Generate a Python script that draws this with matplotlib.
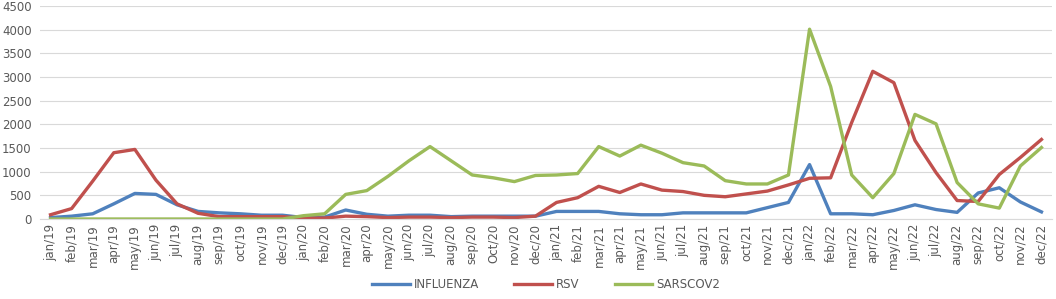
import matplotlib.pyplot as plt

months = ["jan", "feb", "mar", "apr", "may", "jun", "jul", "aug", "sep", "oct", "nov", "dec"]
labels = []
for yr in ["19", "20", "21", "22"]:
    for m in months:
        labels.append(m + "/" + yr)
labels[labels.index("oct/20")] = "Oct/20"

influenza = [30, 60, 110, 320, 540, 520, 300, 160, 130, 110, 80, 80,
             30, 40, 190, 100, 60, 80, 80, 50, 60, 60, 60, 60,
             160, 160, 160, 110, 90, 90, 130, 130, 130, 130, 240, 350,
             1150, 110, 110, 90, 180, 300, 200, 140, 550, 660, 360, 150]
rsv = [90, 220, 800, 1400, 1470, 820, 320, 120, 50, 50, 50, 50,
       20, 20, 60, 50, 30, 40, 40, 30, 40, 40, 30, 60,
       350, 450, 690, 560, 740, 610, 580, 500, 470, 530, 590, 720,
       860, 870, 2040, 3120, 2880, 1660, 980, 390, 370, 940, 1300, 1680]
sarscov2 = [0, 0, 0, 0, 0, 0, 0, 0, 0, 0, 0, 0,
            70, 110, 520, 600, 900, 1230, 1530, 1230, 930, 870, 790, 920,
            930, 960, 1530, 1330, 1560, 1390, 1190, 1120, 810, 740, 740, 930,
            4010, 2800, 930, 450, 960, 2210, 2010, 770, 320, 230, 1120, 1510]

fig = plt.figure(figsize=(10.56, 2.99), dpi=100)
ax = fig.add_axes([40 / 1056, 1 - 219 / 299, 1012 / 1056, 213 / 299])

x = list(range(len(labels)))
ax.plot(x, influenza, color="#4F81BD", lw=2.4, label="INFLUENZA")
ax.plot(x, rsv, color="#C0504D", lw=2.4, label="RSV")
ax.plot(x, sarscov2, color="#9BBB59", lw=2.4, label="SARSCOV2")

ax.set_xlim(-0.5, len(labels) - 0.5)
ax.set_ylim(0, 4500)
ax.set_yticks(range(0, 4501, 500))
ax.set_xticks(x)
ax.set_xticklabels(labels, rotation=90)
ax.grid(axis="y", color="#D9D9D9", lw=0.8)
ax.set_axisbelow(True)
for s in ["top", "right", "left"]:
    ax.spines[s].set_visible(False)
ax.spines["bottom"].set_color("#D9D9D9")
ax.tick_params(axis="both", length=0, labelsize=8.5, colors="#595959")
ax.tick_params(axis="y", pad=6)

ax.legend(loc="lower center", bbox_to_anchor=(0.5, -0.39), ncol=3, frameon=False,
          fontsize=8.5, labelcolor="#595959", handlelength=3.2, columnspacing=3,
          handletextpad=0.3)

fig.savefig("out.png", dpi=100)
